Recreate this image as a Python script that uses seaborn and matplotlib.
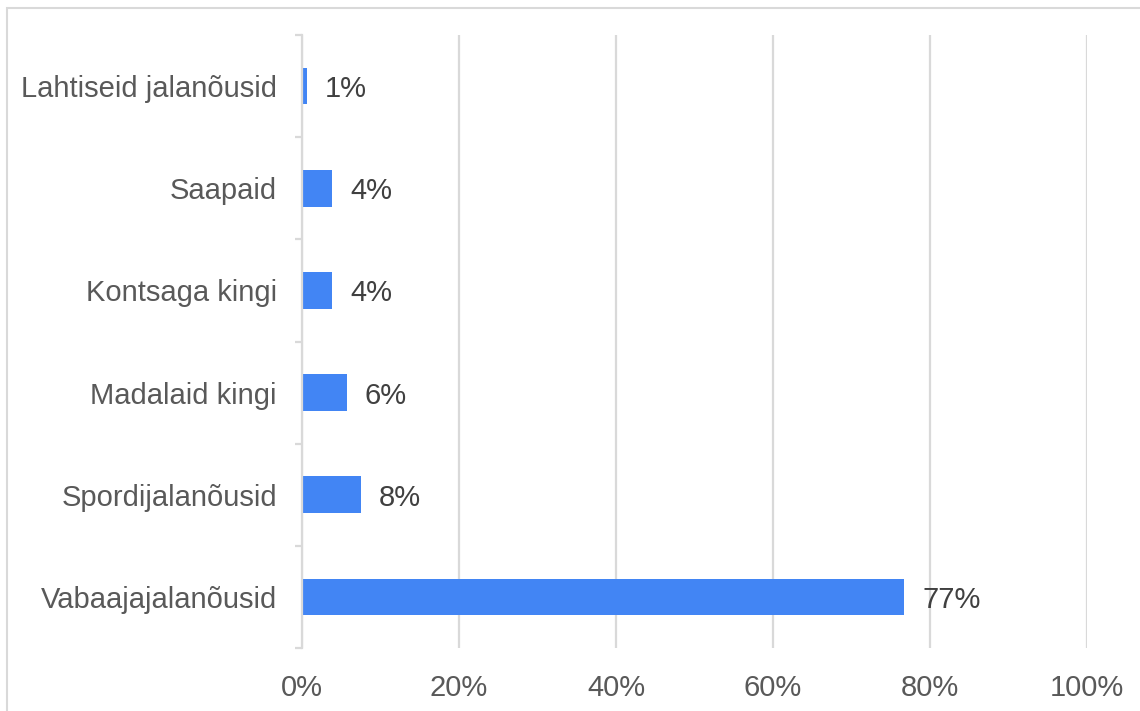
import matplotlib
matplotlib.use("Agg")
import matplotlib.pyplot as plt
from matplotlib.patches import Rectangle
from matplotlib.ticker import FixedLocator, FuncFormatter
import seaborn as sns
import pandas as pd

categories = ["Lahtiseid jalanõusid", "Saapaid", "Kontsaga kingi",
              "Madalaid kingi", "Spordijalanõusid", "Vabaajajalanõusid"]
values = [0.6, 3.8, 3.8, 5.7, 7.5, 76.7]
xticks = [0, 20, 40, 60, 80, 100]

df = pd.DataFrame({"cat": categories, "val": values})

sns.set_theme(style="white")
plt.rcParams["font.family"] = ["Liberation Sans", "DejaVu Sans"]

fig = plt.figure(figsize=(11.4, 7.11), dpi=100)
ax = fig.add_axes([302/1140, 1-648/711, (1087-302)/1140, (648-35)/711])

sns.barplot(data=df, x="val", y="cat", orient="h", color="#4285F4",
            width=0.36, ax=ax, saturation=1, edgecolor="none")

ax.set_xlim(0, 100)
ax.set_ylim(len(categories) - 0.5, -0.5)
ax.set_xticks(xticks)
ax.xaxis.set_major_formatter(FuncFormatter(lambda v, p: f"{v:.0f}%"))
ax.set_xlabel("")
ax.set_ylabel("")

ax.grid(axis="x", color="#d9d9d9", linewidth=1.6)
ax.set_axisbelow(True)
for s in ["top", "right", "bottom"]:
    ax.spines[s].set_visible(False)
ax.spines["left"].set_color("#d9d9d9")
ax.spines["left"].set_linewidth(1.6)

ax.tick_params(axis="x", length=0, pad=19, labelsize=21, labelcolor="#595959")
ax.tick_params(axis="y", which="major", length=0, pad=18, labelsize=21, labelcolor="#595959")
for lab in ax.get_yticklabels():
    lab.set_verticalalignment("center_baseline")
ax.yaxis.set_minor_locator(FixedLocator([i - 0.5 for i in range(len(categories) + 1)]))
ax.tick_params(axis="y", which="minor", length=5, width=1.6, color="#d9d9d9", left=True)

for i, v in enumerate(values):
    ax.annotate(f"{v:.0f}%", xy=(v, i), xytext=(13, 0), textcoords="offset points",
                ha="left", va="center_baseline", fontsize=21, color="#404040")

fig.patches.append(Rectangle((7/1140, -0.2), 1.2, 1.2 - 8/711,
                             transform=fig.transFigure, fill=False,
                             edgecolor="#d9d9d9", linewidth=1.5, clip_on=False))

fig.savefig("out.png", dpi=100, facecolor="white")
